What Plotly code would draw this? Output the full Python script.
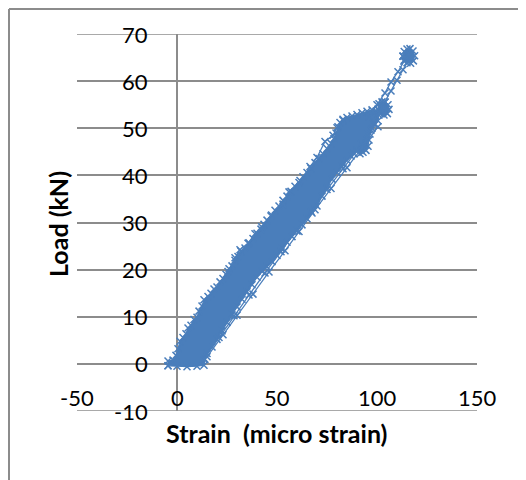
import plotly.graph_objects as go

BLUE = "#4A7EBB"
GRID = "#8C8C8C"

# Dense envelope of the loading cycles (strain in micro strain, load in kN)
band_strain = [-4.5, -4.5, -2, -0.5, 0.5, 1.5, 3, 4.5, 5.5, 7, 8.5, 10, 11, 12.5, 13.5, 15.5, 17, 18.5, 20, 21.5,
               23, 24.5, 26, 27.5, 29, 30.5, 32, 34, 36, 38, 40, 42, 43.5, 45, 47, 49, 51, 53, 55, 57,
               59, 61, 63, 65, 67, 69, 71, 73, 75, 77, 78.5, 79.5, 80.5, 81.5, 83, 85, 87.5, 90, 92.5, 95,
               97.5, 99.5, 101, 100.5, 99, 97.5, 96.5, 96, 95.5, 94.5, 93, 91.5, 90, 88.5, 87,
               85, 82.5, 80, 77.5, 75, 72.5, 70, 67.5, 65, 62.5, 60, 57.5, 55, 52.5, 50, 47.5, 45, 42.5,
               40, 37.5, 35, 32.5, 30, 27.5, 25, 22.5, 20, 17.5, 15, 14, 13.5, 10, 5, 0, -4.5]
band_load = [-0.4, 0.6, 0.8, 1.8, 3.2, 4.8, 5.6, 6.4, 7.6, 8.2, 9.4, 9.9, 11.2, 12.3, 13.6, 14.3, 15.0, 15.9, 16.3, 17.4,
             18.1, 19.0, 20.2, 20.8, 22.0, 22.8, 23.9, 24.6, 25.7, 26.6, 27.7, 28.6, 29.6, 30.5, 31.4, 32.6, 33.5, 34.7, 35.6, 36.6,
             37.7, 38.5, 39.7, 40.6, 41.5, 42.7, 43.6, 44.6, 45.7, 46.8, 47.8, 49.0, 50.3, 51.2, 51.9, 52.3, 52.6, 52.9, 53.3, 53.6,
             53.9, 53.6, 52.8, 51.6, 50.8, 50.0, 48.8, 47.5, 46.2, 45.3, 44.9, 44.6, 45.1, 44.6, 44.1,
             43.2, 41.8, 40.6, 39.2, 37.5, 35.6, 33.5, 32.0, 30.8, 29.5, 28.2, 27.0, 25.8, 24.4, 23.0, 21.7, 20.6, 19.6,
             18.4, 16.8, 15.3, 13.7, 12.1, 10.4, 8.8, 7.0, 5.2, 3.6, 2.2, 1.0, -0.3, -0.5, -0.6, -0.5, -0.4]

# Clusters of readings held at constant load
hold1_strain = [100.5, 101, 102.5, 104, 105.5, 106, 105.2, 103.5, 101.8, 100.5]
hold1_load = [54.0, 55.2, 55.6, 55.5, 55.0, 54.0, 53.1, 52.8, 53.1, 54.0]
hold2_strain = [113, 113.6, 115, 116.5, 118, 118.8, 118.2, 116.8, 115, 113.6, 113]
hold2_load = [65.3, 66.3, 66.8, 66.9, 66.4, 65.4, 64.3, 63.8, 63.9, 64.4, 65.3]

# Individual unloading / reloading paths
pathA_strain = [15, 23, 30, 38, 46, 54, 61, 69, 77, 85, 93, 100.5]
pathA_load = [1.5, 6.2, 10.3, 14.8, 19.5, 24.0, 28.1, 32.7, 37.2, 41.6, 46.0, 50.3]
pathB_strain = [13.5, 21, 28.5, 36, 44, 52, 60, 67, 75, 83, 90, 97]
pathB_load = [1.0, 5.6, 10.2, 14.6, 19.3, 23.8, 28.3, 32.4, 37.0, 41.4, 45.3, 49.6]
pathC_strain = [25.5, 29, 31.5, 35.5, 39, 42.3, 47.3, 53, 56, 61.5, 66.5, 70, 74, 78, 80, 83]
pathC_load = [19.6, 22.5, 24.2, 25.6, 27.6, 29.1, 31.6, 33.9, 36.5, 38.9, 41.9, 43.8, 47.2, 48.5, 50.1, 51.7]
pathD_strain = [96, 100, 104, 107, 110.5, 113.5, 116]
pathD_load = [52.5, 55.0, 57.5, 59.8, 62.0, 64.2, 65.3]
pathE_strain = [116.5, 113, 110, 107, 104, 101, 98, 95, 92]
pathE_load = [65.0, 62.4, 60.2, 57.9, 55.6, 53.3, 51.0, 48.8, 46.8]

x_ticks = [-50, 0, 50, 100, 150]
y_ticks = [-10, 0, 10, 20, 30, 40, 50, 60, 70]

marker = dict(symbol="x-thin", size=7, color=BLUE, line=dict(width=1.5, color=BLUE))

fig = go.Figure()
fill_x = band_strain + [None] + hold1_strain + [None] + hold2_strain
fill_y = band_load + [None] + hold1_load + [None] + hold2_load
fig.add_trace(go.Scatter(x=fill_x, y=fill_y, mode="lines+markers", fill="toself",
                         fillcolor=BLUE, line=dict(color=BLUE, width=1.25), marker=marker,
                         showlegend=False, hoverinfo="skip"))
for xs, ys in [(pathA_strain, pathA_load), (pathB_strain, pathB_load), (pathC_strain, pathC_load),
               (pathD_strain, pathD_load), (pathE_strain, pathE_load)]:
    fig.add_trace(go.Scatter(x=xs, y=ys, mode="lines+markers", line=dict(color=BLUE, width=1.25),
                             marker=marker, showlegend=False))

FONT = "Lato, Calibri, sans-serif"
TICK_FONT = dict(family=FONT, size=22, color="black")
TITLE_FONT = dict(family=FONT, size=25, color="black")
ann = []
for v in y_ticks:
    ann.append(dict(x=-13.5, y=v, xref="x", yref="y", text=str(v), showarrow=False,
                    xanchor="right", yanchor="middle", font=TICK_FONT))
for v in x_ticks:
    ann.append(dict(x=v, y=-7.2, xref="x", yref="y", text=str(v), showarrow=False,
                    xanchor="center", yanchor="middle", font=TICK_FONT))
ann.append(dict(x=0.4975, y=-0.058, xref="paper", yref="paper", text="<b>Strain  (micro strain)</b>",
                showarrow=False, xanchor="center", yanchor="middle", font=TITLE_FONT))
ann.append(dict(x=-0.0475, y=0.496, xref="paper", yref="paper", text="<b>Load (kN)</b>", textangle=-90,
                showarrow=False, xanchor="center", yanchor="middle", font=TITLE_FONT))

# chart-area frame: only its left and top edges fall inside the picture
shapes = [
    dict(type="line", xref="paper", yref="paper", x0=-0.17, x1=-0.17, y0=-0.3, y1=1.0663,
         line=dict(color=GRID, width=2), layer="below"),
    dict(type="line", xref="paper", yref="paper", x0=-0.17, x1=1.3, y0=1.0663, y1=1.0663,
         line=dict(color=GRID, width=2), layer="below"),
]
# gridlines at the two ends of the value axis
for v in (y_ticks[0], y_ticks[-1]):
    shapes.append(dict(type="line", xref="paper", yref="y", x0=0, x1=1, y0=v, y1=v,
                       line=dict(color=GRID, width=1.5), layer="below"))

# page body adds an 8px offset; plot area spans window px x 77-477, y 34-411
fig.update_layout(
    width=518, height=472, autosize=False,
    margin=dict(l=69, r=49, t=26, b=69),
    paper_bgcolor="white", plot_bgcolor="white",
    xaxis=dict(range=[-50, 150], showgrid=False, zeroline=True, zerolinecolor=GRID, zerolinewidth=1.5,
               showticklabels=False, ticks="", showline=False, fixedrange=True),
    yaxis=dict(range=[-10, 70], tickvals=y_ticks, showgrid=True, gridcolor=GRID, gridwidth=1.5,
               zeroline=True, zerolinecolor=GRID, zerolinewidth=1.5,
               showticklabels=False, ticks="", showline=False, fixedrange=True),
    annotations=ann,
    shapes=shapes,
)

fig.write_html("out.html")
